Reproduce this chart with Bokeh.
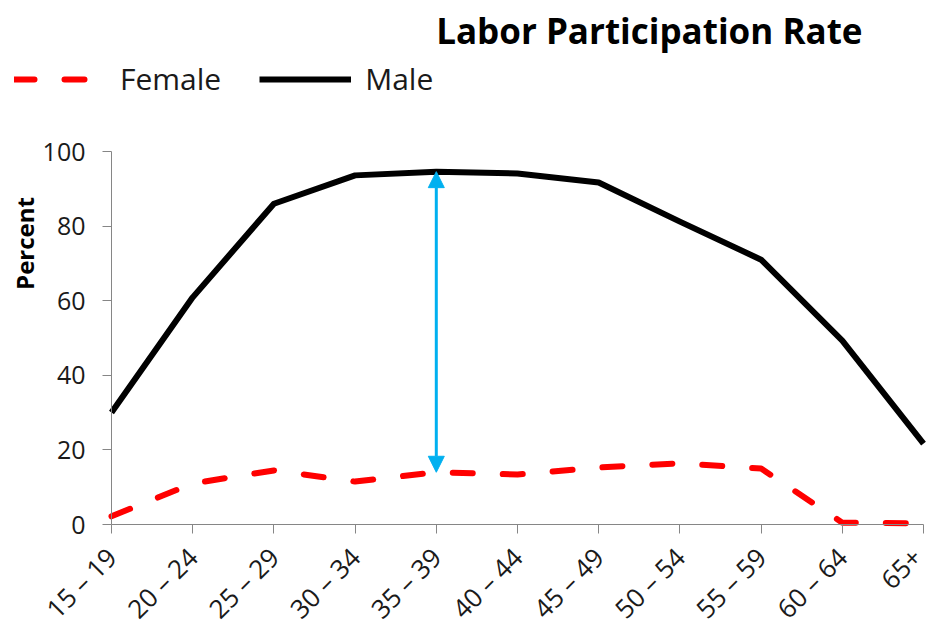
import math
from bokeh.plotting import figure
from bokeh.models import (Range1d, FixedTicker, Arrow, NormalHead, Legend, LegendItem,
                          ColumnDataSource, Label)
from bokeh.embed import file_html
from bokeh.resources import INLINE

# ---- data ----
age_groups = ["15 – 19", "20 – 24", "25 – 29", "30 – 34", "35 – 39", "40 – 44",
              "45 – 49", "50 – 54", "55 – 59", "60 – 64", "65+"]
female = [2.2, 11.0, 14.5, 11.5, 14.0, 13.4, 15.3, 16.4, 15.0, 0.5, 0.3]
male = [30.0, 60.9, 86.0, 93.6, 94.6, 94.1, 91.7, 81.2, 71.0, 49.3, 21.7]
y_ticks = [0, 20, 40, 60, 80, 100]
gap_group = "35 – 39"
title_text = "Labor Participation Rate"
y_label = "Percent"

FONT = "Open Sans"
W, H = 929, 628
# plot-area placement on the canvas (pixels)
AX_LEFT, AX_RIGHT, AX_TOP, AX_BOTTOM = 111, 923, 151, 524

idx = list(range(len(age_groups)))
src = ColumnDataSource(dict(x=idx, female=female, male=male))

n = len(age_groups) - 1
ppx = (AX_RIGHT - AX_LEFT) / n
ymax = y_ticks[-1]
ppy = (AX_BOTTOM - AX_TOP) / ymax
x_range = Range1d(-AX_LEFT / ppx, n + (W - AX_RIGHT) / ppx)
y_range = Range1d(-(H - AX_BOTTOM) / ppy, ymax + AX_TOP / ppy)

p = figure(width=W, height=H, output_backend="svg", toolbar_location=None,
           x_range=x_range, y_range=y_range,
           min_border_left=0, min_border_right=0, min_border_top=0, min_border_bottom=0)
p.outline_line_color = None
p.xgrid.grid_line_color = None
p.ygrid.grid_line_color = None

rf = p.line("x", "female", source=src, line_color="#FF0000", line_width=6,
            line_dash="20 30", line_cap="round", line_join="round")
rm = p.line("x", "male", source=src, line_color="#000000", line_width=6,
            line_cap="butt", line_join="round")

# arrow showing the gap
gi = age_groups.index(gap_group)
p.add_layout(Arrow(x_start=gi, y_start=female[gi], x_end=gi, y_end=male[gi],
                   line_color="#00B0F0", line_width=3,
                   start=NormalHead(size=16, fill_color="#00B0F0", line_color="#00B0F0"),
                   end=NormalHead(size=16, fill_color="#00B0F0", line_color="#00B0F0")))

# axes, fixed at the data origin
for ax in (p.xaxis[0], p.yaxis[0]):
    ax.fixed_location = 0
    ax.axis_line_color = "#868686"
    ax.major_tick_line_color = "#868686"
    ax.minor_tick_line_color = None
    ax.major_tick_out = 9
    ax.major_tick_in = 0
    ax.major_label_text_font = FONT
    ax.major_label_text_color = "#1a1a1a"

p.xaxis.bounds = (0, n)
p.xaxis.ticker = FixedTicker(ticks=idx)
p.xaxis.major_label_overrides = {i: lab for i, lab in enumerate(age_groups)}
p.xaxis.major_label_orientation = math.pi / 4
p.xaxis.major_label_standoff = 19
p.xaxis.major_label_text_font_size = "26px"

p.yaxis.bounds = (0, ymax)
p.yaxis.ticker = FixedTicker(ticks=y_ticks)
p.yaxis.major_label_standoff = 17
p.yaxis.major_label_text_font_size = "25px"

# y-axis title (placed high on the axis, as in the original)
p.add_layout(Label(x=24, y=H - 243, x_units="screen", y_units="screen", text=y_label,
                   angle=math.pi / 2, text_font=FONT, text_font_style="bold",
                   text_font_size="24px", text_align="center", text_baseline="middle",
                   text_color="#000000"))

# title
p.add_layout(Label(x=862, y=H - 30, x_units="screen", y_units="screen", text=title_text,
                   text_font=FONT, text_font_style="bold", text_font_size="35px",
                   text_align="right", text_baseline="middle", text_color="#000000"))

# legend
legend = Legend(items=[LegendItem(label="Female", renderers=[rf]),
                       LegendItem(label="Male", renderers=[rm])],
                location=(14, H - 99), orientation="horizontal",
                glyph_width=92, glyph_height=36, label_height=36,
                label_standoff=14, spacing=38,
                padding=0, margin=0, border_line_color=None, background_fill_alpha=0,
                label_text_font=FONT, label_text_font_size="30px",
                label_text_color="#1a1a1a", label_text_baseline="middle")
p.add_layout(legend)

open("out.html", "w").write(file_html(p, INLINE))
